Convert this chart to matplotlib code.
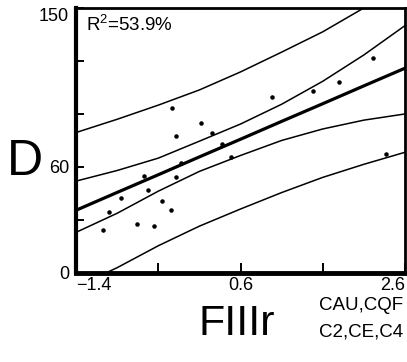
import numpy as np
import matplotlib.pyplot as plt

# ---------- data ----------

fiiir = [-0.23, -0.18, 0.12, 0.25, 0.38, 0.48, 0.98, 1.48, 1.80, 2.21, 2.37,
         -0.12, -0.57, -0.19, -0.52, -0.85, -0.36, -1.00, -0.25, -0.66, -0.45, -1.07]
d_vals = [93.5, 77.7, 85.1, 79.4, 73.2, 65.4, 99.7, 103.1, 108.2, 121.7, 67.6,
          62.5, 54.6, 54.1, 46.8, 42.3, 40.6, 34.4, 35.5, 27.6, 26.5, 24.2]

# curves sampled along x
x_grid = [-1.4, -0.9, -0.4, 0.1, 0.6, 1.1, 1.6, 2.1, 2.6]
fit_line = [35.5, 45.6, 55.6, 65.7, 75.7, 85.8, 95.8, 105.9, 115.9]
ci_upper = [52.0, 58.0, 65.0, 74.6, 84.3, 95.5, 108.5, 123.4, 140.0]
ci_lower = [23.0, 33.8, 46.3, 57.5, 66.5, 75.0, 81.5, 86.5, 90.0]
pi_upper = [79.5, 87.0, 95.0, 103.6, 113.8, 125.0, 136.5, 150.0, 163.0]
pi_lower = [-8.0, 3.0, 15.4, 26.5, 36.2, 45.5, 54.1, 61.5, 68.3]

x_ticks = [-1.4, -0.4, 0.6, 1.6, 2.6]
x_ticklabels = ["\u22121.4", "", "0.6", "", "2.6"]
y_ticks = [0, 30, 60, 90, 120, 150]
y_ticklabels = ["0", "", "60", "", "", "150"]

plt.rcParams['font.family'] = ['Liberation Sans', 'DejaVu Sans']
plt.rcParams['mathtext.default'] = 'regular'

fig = plt.figure(figsize=(4.07, 3.62), dpi=100)
ax = fig.add_axes([0.187, 0.246, 0.808, 0.732])

ax.plot(x_grid, pi_upper, color="black", lw=1.1)
ax.plot(x_grid, pi_lower, color="black", lw=1.1)
ax.plot(x_grid, ci_upper, color="black", lw=1.1)
ax.plot(x_grid, ci_lower, color="black", lw=1.1)
ax.plot(x_grid, fit_line, color="black", lw=2.3)
ax.scatter(fiiir, d_vals, s=5, color="black", zorder=3)

ax.set_xlim(-1.4, 2.6)
ax.set_ylim(0, 150)

ax.set_xticks(x_ticks)
ax.set_xticklabels(x_ticklabels)
ax.set_yticks(y_ticks)
ax.set_yticklabels(y_ticklabels)
ax.tick_params(axis="x", direction="in", length=7, width=1.4, labelsize=13, pad=3)
ax.tick_params(axis="y", direction="in", length=6, width=1.4, labelsize=13, pad=5)
xl = ax.get_xticklabels()
xl[0].set_ha("left")
xl[-1].set_ha("right")
yl = ax.get_yticklabels()
yl[-1].set_va("top")

ax.spines["left"].set_linewidth(3.0)
ax.spines["bottom"].set_linewidth(3.5)
ax.spines["top"].set_linewidth(2.0)
ax.spines["right"].set_linewidth(2.0)

ax.text(0.03, 0.975, "R$^2$=53.9%", transform=ax.transAxes, fontsize=13.5,
        ha="left", va="top")

fig.text(25 / 407, 1 - 162 / 362, "D", fontsize=36, ha="center", va="center")
fig.text(237 / 407, 1 - 324 / 362, "FIIIr", fontsize=31, ha="center", va="center")
fig.text(319 / 407, 1 - 305 / 362, "CAU,CQF", fontsize=13.5, ha="left", va="center")
fig.text(319 / 407, 1 - 332 / 362, "C2,CE,C4", fontsize=13.5, ha="left", va="center")

fig.savefig("out.png", dpi=100)
